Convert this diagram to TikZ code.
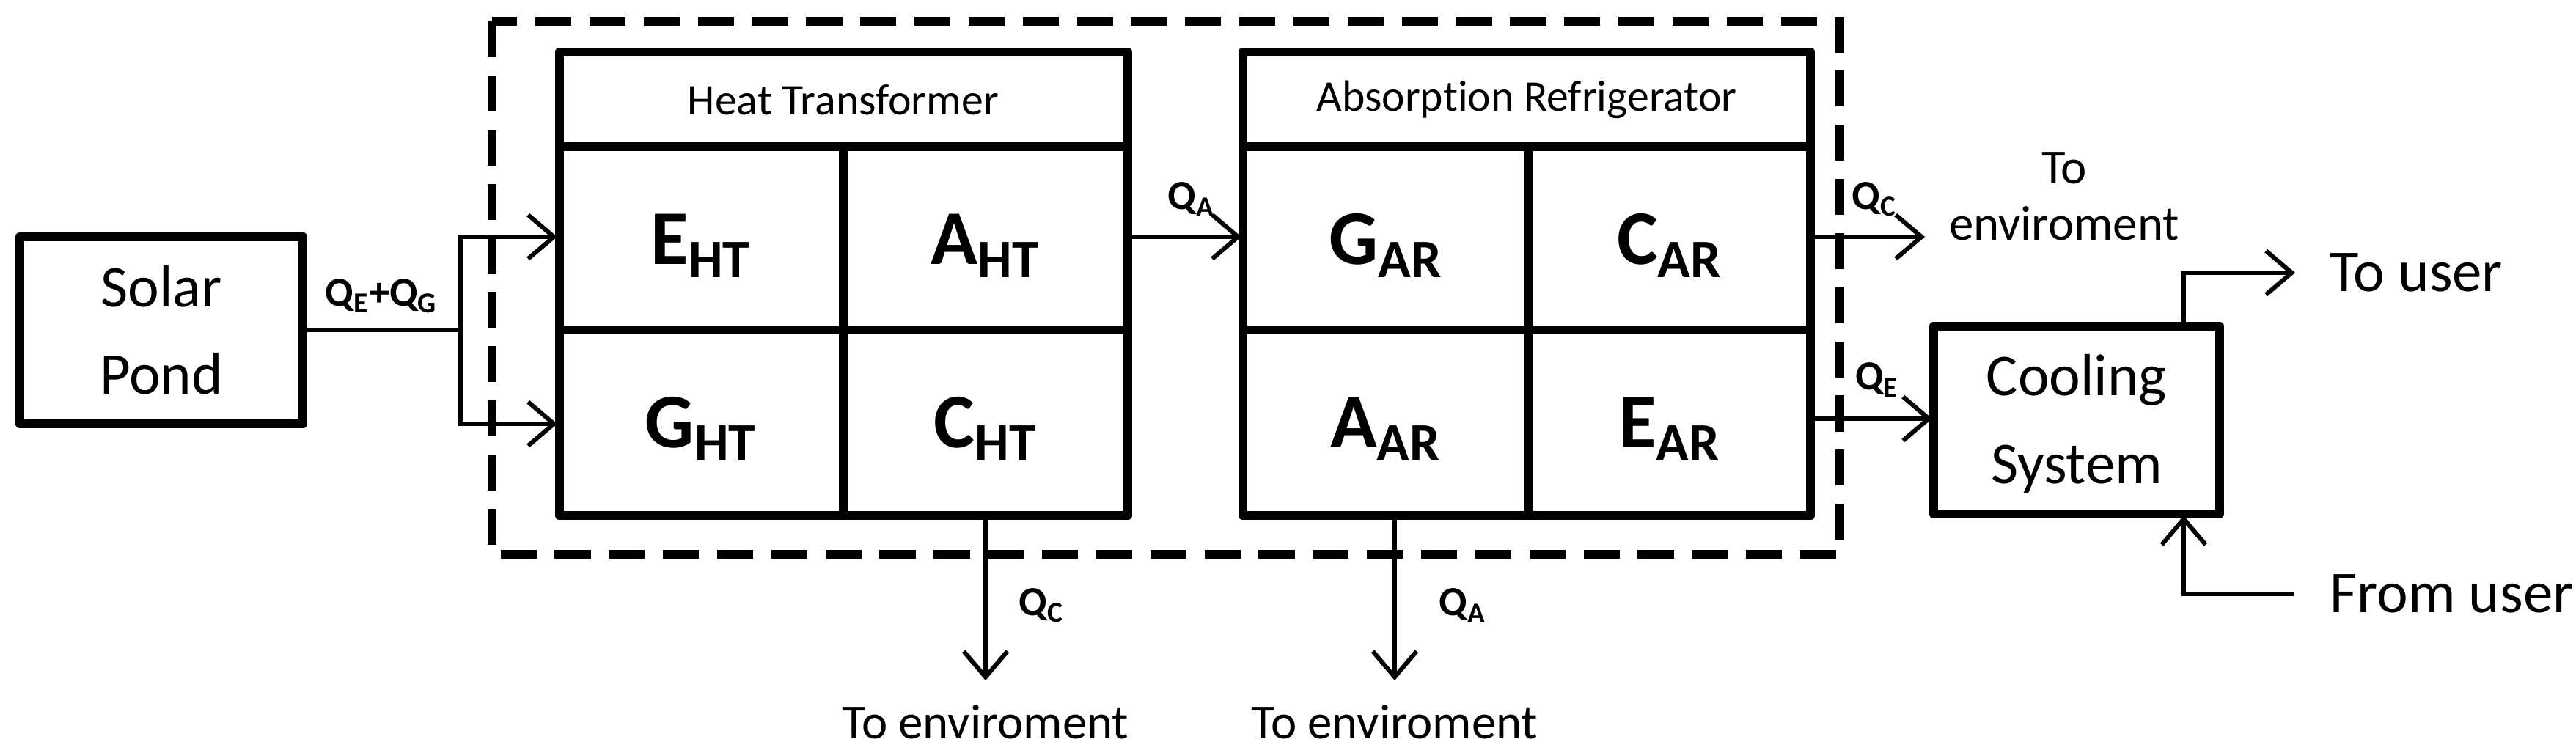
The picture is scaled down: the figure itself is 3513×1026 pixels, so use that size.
\documentclass[tikz,border=0pt]{standalone}
\usepackage{fontspec}
\setmainfont{Carlito}[Ligatures={NoCommon,NoRequired,NoContextual}]
\usetikzlibrary{arrows.meta}
\begin{document}
\begin{tikzpicture}[x=0.01cm,y=-0.01cm,
  thickbox/.style={draw,line width=3.6pt,line join=round},
  arr/.style={line width=1.7pt,-{Straight Barb[length=10pt,width=17pt,line width=1.7pt]}},
  ln/.style={line width=1.7pt},
  big/.style={font=\fontsize{30}{34}\selectfont\bfseries},
  ttl/.style={font=\fontsize{17}{20}\selectfont},
  lab/.style={font=\fontsize{16}{18}\selectfont\bfseries},
  txt/.style={font=\fontsize{19}{22}\selectfont}]
\newcommand{\sbx}[1]{\textsubscript{\fontsize{21}{24}\selectfont #1}}
\useasboundingbox (0,0) rectangle (3513,1026);
% dashed enclosure
\draw[line width=3.3pt,dash pattern=on 14pt off 7pt] (671,29) rectangle (2509,756);
% Solar pond
\draw[thickbox] (27,323) rectangle (413,578);
\node[align=center,font=\fontsize{23}{34}\selectfont] (sp) at (220,450) {Solar\\Pond};
% Heat transformer
\draw[thickbox] (763,71) rectangle (1538,703);
\draw[thickbox] (763,200) -- (1538,200);
\draw[thickbox] (763,450) -- (1538,450);
\draw[thickbox] (1150,200) -- (1150,703);
\node[ttl] (ht) at (1150,136) {Heat Transformer};
\node[big] (eht) at (956,335) {E\sbx{HT}};
\node[big] (aht) at (1344,335) {A\sbx{HT}};
\node[big] (ght) at (956,585) {G\sbx{HT}};
\node[big] (cht) at (1344,585) {C\sbx{HT}};
% Absorption refrigerator
\draw[thickbox] (1695,71) rectangle (2469,703);
\draw[thickbox] (1695,200) -- (2469,200);
\draw[thickbox] (1695,450) -- (2469,450);
\draw[thickbox] (2085,200) -- (2085,703);
\node[ttl] (ar) at (2082,136) {Absorption Refrigerator};
\node[big] (gar) at (1890,335) {G\sbx{AR}};
\node[big] (car) at (2277,335) {C\sbx{AR}};
\node[big] (aar) at (1890,585) {A\sbx{AR}};
\node[big] (ear) at (2277,585) {E\sbx{AR}};
% Cooling system
\draw[thickbox] (2637,445) rectangle (3027,701);
\node[align=center,font=\fontsize{23}{34}\selectfont] (cs) at (2832,578) {Cooling\\System};
% coordinates
\coordinate (spo) at (413,450);
\coordinate (br) at (628,450);
\coordinate (bu) at (628,323);
\coordinate (bl) at (628,578);
\coordinate (hte) at (760,323);
\coordinate (htg) at (760,578);
\coordinate (hta) at (1538,323);
\coordinate (arg) at (1693,323);
\coordinate (htb) at (1344,703);
\coordinate (htd) at (1344,928);
\coordinate (arb) at (1902,703);
\coordinate (ard) at (1902,928);
\coordinate (arc) at (2469,323);
\coordinate (arce) at (2625,323);
\coordinate (are) at (2469,571);
\coordinate (cse) at (2635,571);
\coordinate (cst) at (2978,445);
\coordinate (tuc) at (2978,372);
\coordinate (tu) at (3130,372);
\coordinate (fu) at (3128,810);
\coordinate (fuc) at (2978,810);
\coordinate (csb) at (2978,703);
% connectors
\draw[ln] (spo) -- (br);
\draw[arr] (bl) |- (bu) -- (hte);
\draw[arr] (bu) |- (htg);
\draw[arr] (hta) -- (arg);
\draw[arr] (htb) -- (htd);
\draw[arr] (arb) -- (ard);
\draw[arr] (arc) -- (arce);
\draw[arr] (are) -- (cse);
\draw[arr] (cst) -- (tuc) -- (tu);
\draw[arr] (fu) -- (fuc) -- (csb);
% labels
\node[lab] (l1) at (520,404) {Q\textsubscript{E}+Q\textsubscript{G}};
\node[lab] (l2) at (1625,272) {Q\textsubscript{A}};
\node[lab] (l3) at (1420,826) {Q\textsubscript{C}};
\node[lab] (l4) at (1995,826) {Q\textsubscript{A}};
\node[lab] (l5) at (2556,272) {Q\textsubscript{C}};
\node[lab] (l6) at (2560,518) {Q\textsubscript{E}};
\node[txt] (t1) at (1344,985) {To enviroment};
\node[txt] (t2) at (1902,985) {To enviroment};
\node[txt,align=center] (t3) at (2815,268) {To\\enviroment};
\node[txt,anchor=west,font=\fontsize{23}{26}\selectfont] (t4) at (3165,372) {To user};
\node[txt,anchor=west,font=\fontsize{23}{26}\selectfont] (t5) at (3165,810) {From user};
\end{tikzpicture}
\end{document}
